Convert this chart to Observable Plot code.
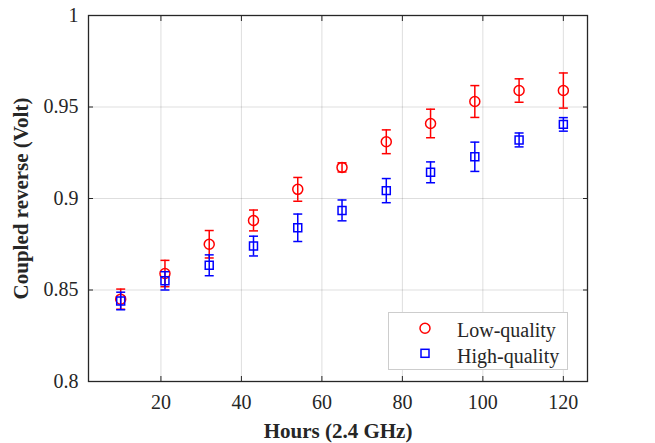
<!DOCTYPE html>
<html>
<head>
<meta charset="utf-8">
<script src="https://cdn.jsdelivr.net/npm/d3@7"></script>
<script src="https://cdn.jsdelivr.net/npm/@observablehq/plot@0.6"></script>
<style>
  html, body { margin: 0; padding: 0; background: #fff; }
  #wrap { position: relative; width: 655px; height: 443px; font-family: "Liberation Serif", "Times New Roman", serif; }
  #chart svg, #chart svg text, #legend svg text { font-family: "Liberation Serif", "Times New Roman", serif !important; font-variant: normal !important; }
  #legend { position: absolute; left: 388px; top: 312px; width: 180px; height: 58px; box-sizing: border-box; background: #fff; border: 1px solid #cdcdcd; }
  #legend svg { display: block; }
</style>
</head>
<body>
<div id="wrap"><div id="chart"></div><div id="legend"></div></div>
<script>
const hours = [10, 21, 32, 43, 54, 65, 76, 87, 98, 109, 120];
const lowMean = [0.845, 0.859, 0.875, 0.888, 0.905, 0.917, 0.931, 0.941, 0.953, 0.959, 0.959];
const lowErr = [0.0055, 0.0072, 0.0075, 0.0057, 0.0065, 0.0025, 0.0065, 0.0078, 0.0087, 0.0064, 0.0096];
const highMean = [0.844, 0.855, 0.8635, 0.874, 0.884, 0.8935, 0.9043, 0.9143, 0.9228, 0.932, 0.9405];
const highErr = [0.0048, 0.005, 0.0057, 0.0054, 0.0075, 0.0057, 0.0066, 0.0057, 0.008, 0.0038, 0.0037];
const xTicks = [20, 40, 60, 80, 100, 120];
const yTicks = [0.8, 0.85, 0.9, 0.95, 1];
const yTickLabels = ["0.8", "0.85", "0.9", "0.95", "1"];
const seriesNames = ["Low-quality", "High-quality"];
const seriesColors = ["#ff0000", "#0000ff"];

const low = hours.map((h, i) => ({hours: h, mean: lowMean[i], err: lowErr[i]}));
const high = hours.map((h, i) => ({hours: h, mean: highMean[i], err: highErr[i]}));

const cap = {draw(ctx) { ctx.moveTo(-4.5, 0); ctx.lineTo(4.5, 0); }};
const ink = "#262626";
const serif = "Liberation Serif";

function series(data, color, symbol, r) {
  return [
    Plot.ruleX(data, {x: "hours", y1: d => d.mean - d.err, y2: d => d.mean + d.err, stroke: color, strokeWidth: 1.5}),
    Plot.dot(data, {x: "hours", y: d => d.mean - d.err, symbol: cap, r: 4, stroke: color, fill: "none", strokeWidth: 1.5}),
    Plot.dot(data, {x: "hours", y: d => d.mean + d.err, symbol: cap, r: 4, stroke: color, fill: "none", strokeWidth: 1.5}),
    Plot.dot(data, {x: "hours", y: "mean", symbol, r, stroke: color, fill: "none", strokeWidth: 1.5})
  ];
}

const chart = Plot.plot({
  width: 655, height: 443,
  marginLeft: 88, marginRight: 68, marginTop: 15, marginBottom: 62,
  style: {fontFamily: serif, fontSize: "20px", background: "#fff", color: ink},
  x: {domain: [2, 126]},
  y: {domain: [0.8, 1]},
  marks: [
    Plot.gridX(xTicks, {stroke: "#000", strokeOpacity: 0.13, strokeWidth: 1}),
    Plot.gridY(yTicks, {stroke: "#000", strokeOpacity: 0.13, strokeWidth: 1}),
    Plot.axisX(xTicks, {anchor: "bottom", tickSize: 0, tickPadding: 13, label: null, fontSize: 20, fontFamily: serif, fill: ink, tickFormat: d => String(d)}),
    Plot.axisX(xTicks, {anchor: "bottom", tickSize: -5, label: null, stroke: ink, tickFormat: () => ""}),
    Plot.axisX(xTicks, {anchor: "top", tickSize: -5, label: null, stroke: ink, tickFormat: () => ""}),
    Plot.axisY(yTicks, {anchor: "left", tickSize: 0, tickPadding: 10, label: null, fontSize: 20, fontFamily: serif, fill: ink, tickFormat: d => yTickLabels[yTicks.indexOf(d)]}),
    Plot.axisY(yTicks, {anchor: "left", tickSize: -5, label: null, stroke: ink, tickFormat: () => ""}),
    Plot.axisY(yTicks, {anchor: "right", tickSize: -5, label: null, stroke: ink, tickFormat: () => ""}),
    Plot.frame({stroke: ink, strokeWidth: 1.3}),
    ...series(low, seriesColors[0], "circle", 5),
    ...series(high, seriesColors[1], "square", 4.5),
    Plot.text(["Hours (2.4 GHz)"], {frameAnchor: "bottom", lineAnchor: "middle", textAnchor: "middle", dy: 50, fontWeight: "bold", fontSize: 21, fontFamily: serif, fill: ink}),
    Plot.text(["Coupled reverse (Volt)"], {frameAnchor: "left", lineAnchor: "middle", textAnchor: "middle", rotate: -90, dx: -67, fontWeight: "bold", fontSize: 21, fontFamily: serif, fill: ink})
  ]
});
document.getElementById("chart").appendChild(chart);

const legend = d3.select("#legend").append("svg").attr("width", 178).attr("height", 56)
  .style("font-family", serif).style("font-size", "20px");
seriesNames.forEach((name, i) => {
  const cy = 15.3 + i * 25;
  if (i === 0) legend.append("circle").attr("cx", 36).attr("cy", cy).attr("r", 5).attr("fill", "none").attr("stroke", seriesColors[i]).attr("stroke-width", 1.5);
  else legend.append("rect").attr("x", 32).attr("y", cy - 4).attr("width", 8).attr("height", 8).attr("fill", "none").attr("stroke", seriesColors[i]).attr("stroke-width", 1.5);
  legend.append("text").attr("x", 68).attr("y", 24 + i * 26).attr("fill", ink).text(name);
});
</script>
</body>
</html>
